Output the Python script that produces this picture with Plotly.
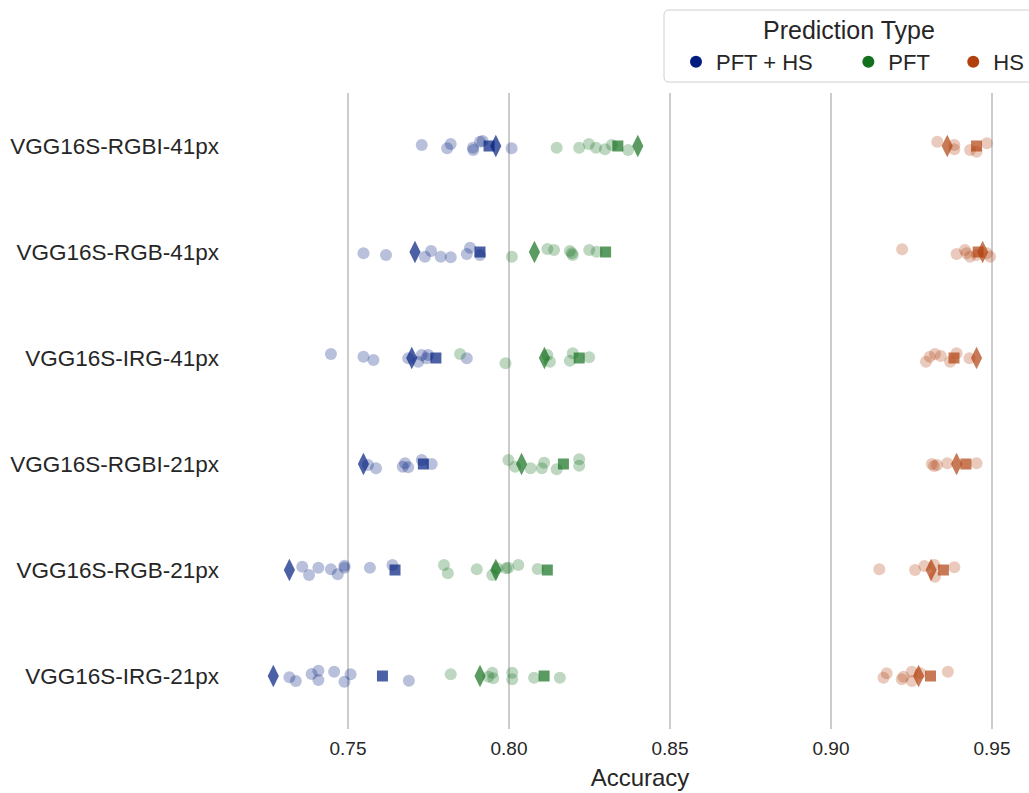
import plotly.graph_objects as go

# ---------------- data ----------------
models = ["VGG16S-RGBI-41px", "VGG16S-RGB-41px", "VGG16S-IRG-41px",
          "VGG16S-RGBI-21px", "VGG16S-RGB-21px", "VGG16S-IRG-21px"]
types = ["PFT + HS", "PFT", "HS"]

# individual runs (circles), per model, per prediction type
pft_hs_runs = [
    [0.7729, 0.7808, 0.7819, 0.7889, 0.7888, 0.7910, 0.7918, 0.8008],
    [0.7548, 0.7618, 0.7739, 0.7758, 0.7788, 0.7819, 0.7869, 0.7879, 0.7910],
    [0.7447, 0.7548, 0.7579, 0.7687, 0.7718, 0.7729, 0.7744, 0.7749, 0.7869],
    [0.7562, 0.7587, 0.7670, 0.7677, 0.7687, 0.7729, 0.7760],
    [0.7358, 0.7379, 0.7408, 0.7447, 0.7468, 0.7489, 0.7489, 0.7568, 0.7638],
    [0.7318, 0.7338, 0.7387, 0.7408, 0.7408, 0.7457, 0.7489, 0.7508, 0.7689],
]
pft_runs = [
    [0.8148, 0.8218, 0.8248, 0.8270, 0.8298, 0.8319, 0.8370],
    [0.8009, 0.8119, 0.8140, 0.8189, 0.8195, 0.8198, 0.8249, 0.8272],
    [0.7848, 0.7989, 0.8119, 0.8127, 0.8189, 0.8198, 0.8249],
    [0.7998, 0.8019, 0.8067, 0.8102, 0.8109, 0.8148, 0.8218, 0.8218],
    [0.7798, 0.7810, 0.7900, 0.7948, 0.7964, 0.7991, 0.7998, 0.8029, 0.8089],
    [0.7819, 0.7936, 0.7948, 0.7951, 0.8010, 0.8010, 0.8078, 0.8158],
]
hs_runs = [
    [0.9330, 0.9383, 0.9383, 0.9432, 0.9452, 0.9484],
    [0.9221, 0.9390, 0.9416, 0.9421, 0.9432, 0.9452, 0.9484, 0.9494],
    [0.9295, 0.9307, 0.9323, 0.9341, 0.9370, 0.9390, 0.9430],
    [0.9313, 0.9320, 0.9329, 0.9361, 0.9452],
    [0.9150, 0.9261, 0.9290, 0.9321, 0.9323, 0.9383],
    [0.9163, 0.9173, 0.9220, 0.9225, 0.9251, 0.9251, 0.9277, 0.9363],
]
# square markers
pft_hs_square = [0.7938, 0.7910, 0.7773, 0.7734, 0.7646, 0.7607]
pft_square = [0.8338, 0.8300, 0.8218, 0.8169, 0.8119, 0.8109]
hs_square = [0.9452, 0.9457, 0.9382, 0.9419, 0.9349, 0.9309]
# diamond markers
pft_hs_diamond = [0.7959, 0.7708, 0.7698, 0.7548, 0.7318, 0.7268]
pft_diamond = [0.8400, 0.8079, 0.8110, 0.8039, 0.7959, 0.7910]
hs_diamond = [0.9361, 0.9471, 0.9452, 0.9390, 0.9311, 0.9272]

# strip-plot vertical jitter (pixels)
pft_hs_jit = [
    [-1, 2.3, -2, 4, 1.7, -4.3, -5, 2.3],
    [1.3, 3, 4.7, -1, 4.7, 5.3, 2, -4.3, 3],
    [-4, -1.3, 2, 0.3, 3.7, -3, 0.3, -3, 0.3],
    [1, 4.3, 2.7, -0.7, 3.3, -4, 0],
    [-3.3, 5, -2.3, -0.7, 4.3, -4.3, -2.3, -2.3, -5],
    [1.3, 5, -2, -5.3, 4, -4.3, 5.7, -1.7, 4.7],
]
pft_jit = [
    [1.7, 1.7, -2, 1.7, 3.3, -1, 4],
    [4.7, -3, -2, -1, 1.3, 3, -2, -0.3],
    [-4, 5.3, -3, 3.7, 2.7, -4.7, -0.7],
    [-4, 2.7, 4.3, 4.3, -1.3, 5.3, -4.7, 1.7],
    [-5, 3.3, -0.7, 5, -1.7, -1.7, -2.3, -5, -1],
    [-1.7, 0.7, -3.3, 2.3, -3.3, 3.3, 1.7, 1.7],
]
hs_jit = [
    [-4.3, -1, 3.3, 4, 5.7, -2.7],
    [-2.7, 2, -2, 1.3, 4.7, 3, 1.3, 4.7],
    [3.7, -1.3, -4, -2, 3.7, -4.7, 0.3],
    [0, 2, 1, -0.7, -0.7],
    [-0.7, 0, -4, -5, 6.7, -2.7],
    [1.7, -2.7, 3.3, 0.7, -4.3, 5, -2.7, -4.3],
]
x_ticks = [0.75, 0.80, 0.85, 0.90, 0.95]

# ---------------- styling ----------------
colors = ["#001c7f", "#12711c", "#b1400d"]
FONT = "Liberation Sans, Arial, sans-serif"
TXT = "#262626"
ROW_PX = 106.0

fig = go.Figure()

groups = [
    (pft_hs_runs, pft_hs_jit, pft_hs_square, pft_hs_diamond),
    (pft_runs, pft_jit, pft_square, pft_diamond),
    (hs_runs, hs_jit, hs_square, hs_diamond),
]

for gi, (runs, jits, sq, dia) in enumerate(groups):
    c = colors[gi]
    xs, ys = [], []
    for mi, (vals, jj) in enumerate(zip(runs, jits)):
        for v, j in zip(vals, jj):
            xs.append(v)
            ys.append(mi + j / ROW_PX)
    fig.add_trace(go.Scatter(
        x=xs, y=ys, mode="markers", showlegend=False, hoverinfo="x",
        marker=dict(symbol="circle", size=12, color=c, opacity=0.28,
                    line=dict(width=0))))
    fig.add_trace(go.Scatter(
        x=sq, y=list(range(len(models))), mode="markers", showlegend=False,
        marker=dict(symbol="square", size=11, color=c, opacity=0.7,
                    line=dict(width=0))))
    fig.add_trace(go.Scatter(
        x=dia, y=list(range(len(models))), mode="markers", showlegend=False,
        marker=dict(symbol="diamond-tall", size=16, color=c, opacity=0.7,
                    line=dict(width=0))))

# legend entries (trailing no-break spaces set the gap between entries)
pads = ["\u00a0" * 5, "\u00a0" * 3, ""]
for gi, t in enumerate(types):
    fig.add_trace(go.Scatter(
        x=[None], y=[None], mode="markers", name=t + pads[gi], showlegend=True,
        marker=dict(symbol="circle", size=12, color=colors[gi])))

L, T, B = 251, 93, 64
W, H = 1029, 793
plot_w = W - L
plot_h = H - T - B
x_min = 0.75 - (348 - L) / 3220.0
x_max = 0.75 + (W - 348) / 3220.0


def px_x(p):
    return (p - L) / plot_w


def px_y(p):
    return 1 + (T - p) / plot_h


# legend frame (rounded rectangle) drawn in paper space
bx0, bx1, by0, by1, r = 664, 1040, 10, 82, 5
rx, ry = r / plot_w, r / plot_h
path = (f"M {px_x(bx0) + rx},{px_y(by0)} L {px_x(bx1) - rx},{px_y(by0)} "
        f"Q {px_x(bx1)},{px_y(by0)} {px_x(bx1)},{px_y(by0) - ry} "
        f"L {px_x(bx1)},{px_y(by1) + ry} "
        f"Q {px_x(bx1)},{px_y(by1)} {px_x(bx1) - rx},{px_y(by1)} "
        f"L {px_x(bx0) + rx},{px_y(by1)} "
        f"Q {px_x(bx0)},{px_y(by1)} {px_x(bx0)},{px_y(by1) + ry} "
        f"L {px_x(bx0)},{px_y(by0) - ry} "
        f"Q {px_x(bx0)},{px_y(by0)} {px_x(bx0) + rx},{px_y(by0)} Z")

fig.update_layout(
    width=W, height=H,
    margin=dict(l=L, r=0, t=T, b=B, pad=0, autoexpand=False),
    paper_bgcolor="white", plot_bgcolor="white",
    font=dict(family=FONT, color=TXT, size=19),
    xaxis=dict(range=[x_min, x_max], tickvals=x_ticks,
               ticktext=[f"{v:.2f}" for v in x_ticks],
               showgrid=True, gridcolor="#cccccc", gridwidth=1.5,
               zeroline=False, showline=False, ticks="",
               ticklabelstandoff=6, automargin=False,
               tickfont=dict(size=19, color=TXT),
               title=dict(text="Accuracy", font=dict(size=24, color=TXT),
                          standoff=11)),
    yaxis=dict(range=[5.5, -0.5], tickvals=list(range(len(models))),
               ticktext=models, showgrid=False, zeroline=False,
               showline=False, ticks="", ticklabelstandoff=31,
               automargin=False,
               tickfont=dict(size=22.5, color=TXT)),
    legend=dict(orientation="h", x=px_x(676), xanchor="left",
                y=px_y(62), yanchor="middle",
                borderwidth=0, bgcolor="rgba(0,0,0,0)",
                font=dict(size=22, color=TXT),
                itemsizing="constant"),
    shapes=[dict(type="path", xref="paper", yref="paper", path=path,
                 line=dict(color="#d0d0d0", width=1),
                 fillcolor="rgba(255,255,255,0.8)", layer="above")],
    annotations=[dict(text="Prediction Type", xref="paper", yref="paper",
                      x=px_x(849), y=px_y(30), xanchor="center",
                      yanchor="middle", showarrow=False,
                      font=dict(size=25, color=TXT))],
)

fig.write_html("out.html")
